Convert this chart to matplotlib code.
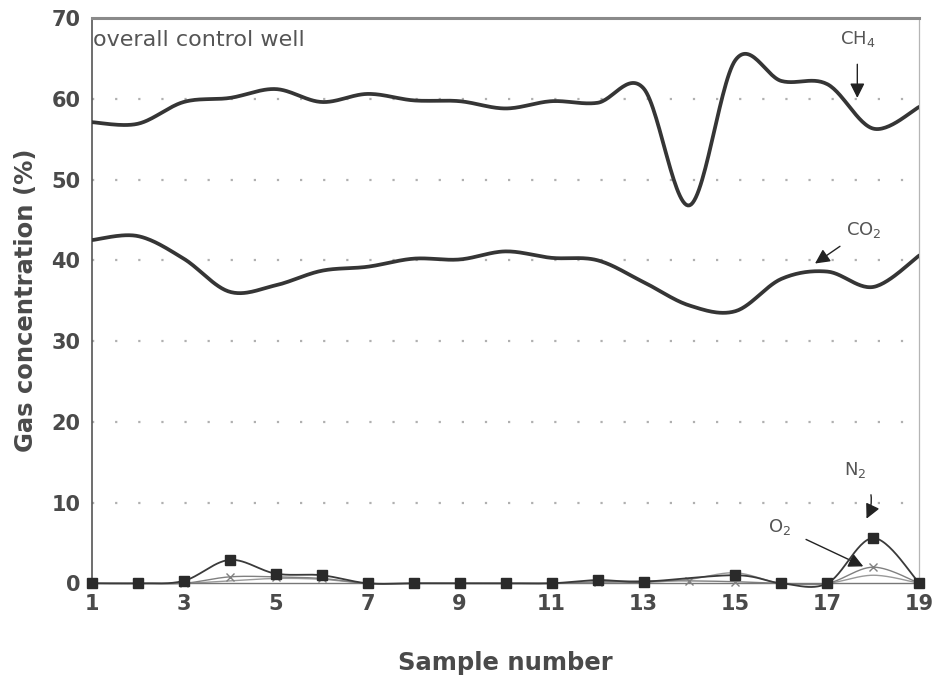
import numpy as np
import matplotlib
matplotlib.use("Agg")
import matplotlib.pyplot as plt

plt.rcParams['font.family'] = ['DejaVu Sans']

samples = list(range(1, 20))
ch4 = [57.1, 56.9, 59.6, 60.1, 61.2, 59.6, 60.6, 59.8, 59.7, 58.8,
       59.7, 59.5, 61.3, 46.8, 64.8, 62.2, 61.8, 56.3, 59.0]
co2 = [42.5, 43.0, 40.2, 36.1, 36.9, 38.7, 39.2, 40.2, 40.1, 41.1,
       40.3, 40.0, 37.3, 34.4, 33.7, 37.7, 38.6, 36.7, 40.6]
n2 = [0.0, 0.0, 0.3, 2.9, 1.2, 1.0, 0.0, 0.0, 0.0, 0.0,
      0.0, 0.4, 0.2, None, 1.0, 0.0, 0.0, 5.6, 0.0]
o2 = [0.0, 0.0, 0.0, 0.8, 0.8, 0.6, 0.0, 0.0, 0.0, 0.0,
      0.0, 0.2, 0.3, 0.3, 0.2, 0.0, 0.0, 2.0, 0.0]
other = [0.0, 0.0, 0.0, 0.3, 0.6, 0.5, 0.0, 0.0, 0.0, 0.0,
         0.0, 0.1, 0.1, 0.5, 1.3, 0.0, 0.0, 1.0, 0.0]
xticks = [1, 3, 5, 7, 9, 11, 13, 15, 17, 19]
yticks = [0, 10, 20, 30, 40, 50, 60, 70]


def smooth(xs, ys, n=30):
    pts = [(x, y) for x, y in zip(xs, ys) if y is not None]
    P = np.array(pts, dtype=float)
    out = []
    for i in range(len(P) - 1):
        p0 = P[i - 1] if i > 0 else P[i]
        p1 = P[i]
        p2 = P[i + 1]
        p3 = P[i + 2] if i + 2 < len(P) else P[i + 1]
        c1 = p1 + (p2 - p0) / 6.0
        c2 = p2 - (p3 - p1) / 6.0
        t = np.linspace(0, 1, n)[:, None]
        seg = ((1 - t) ** 3) * p1 + 3 * ((1 - t) ** 2) * t * c1 + 3 * (1 - t) * t ** 2 * c2 + t ** 3 * p2
        out.append(seg if i == 0 else seg[1:])
    S = np.vstack(out)
    return S[:, 0], S[:, 1]


fig = plt.figure(figsize=(9.37, 6.82), dpi=100)
ax = fig.add_axes([0.0979, 0.1447, 0.8833, 0.8289])
ax.set_xlim(1, 19)
ax.set_ylim(0, 70)

for yv in yticks[1:-1]:
    ax.axhline(yv, color='#b0b0b0', lw=1.6, ls=(0, (1, 9.4)), zorder=0)

gx, gy = smooth(samples, other)
ax.plot(gx, gy, color='#9a9a9a', lw=1.0, zorder=2, clip_on=False)
ox, oy = smooth(samples, o2)
ax.plot(ox, oy, color='#808080', lw=1.0, zorder=2, clip_on=False)
ax.plot(samples, o2, ls='none', marker='x', ms=6, mew=1.0, color='#808080', zorder=3, clip_on=False)

nx, ny = smooth(samples, n2)
ax.plot(nx, ny, color='#3a3a3a', lw=1.3, zorder=4, clip_on=False)
n2x = [s for s, v in zip(samples, n2) if v is not None]
n2y = [v for v in n2 if v is not None]
ax.plot(n2x, n2y, ls='none', marker='s', ms=7, color='#2a2a2a', zorder=5, clip_on=False)

cx, cy = smooth(samples, ch4)
ax.plot(cx, cy, color='#353535', lw=2.7, zorder=4, solid_capstyle='round')
dx, dy = smooth(samples, co2)
ax.plot(dx, dy, color='#353535', lw=2.7, zorder=4, solid_capstyle='round')

ax.set_xticks(xticks)
ax.set_yticks(yticks)
ax.tick_params(axis='both', length=0, labelsize=15, labelcolor='#4a4a4a')
ax.tick_params(axis='x', pad=8)
ax.tick_params(axis='y', pad=8)
for lab in ax.get_xticklabels() + ax.get_yticklabels():
    lab.set_fontweight('bold')

ax.spines['top'].set_color('#8a8a8a')
ax.spines['top'].set_linewidth(2.2)
ax.spines['right'].set_color('#b5b5b5')
ax.spines['right'].set_linewidth(0.9)
ax.spines['left'].set_color('#555555')
ax.spines['left'].set_linewidth(1.2)
ax.spines['bottom'].set_color('#777777')
ax.spines['bottom'].set_linewidth(1.0)

ax.set_xlabel('Sample number', fontsize=17.5, fontweight='bold', color='#4a4a4a', labelpad=26)
ax.set_ylabel('Gas concentration (%)', fontsize=17.5, fontweight='bold', color='#4a4a4a', labelpad=10)

ax.text(1.03, 67.3, 'overall control well', fontsize=16, color='#555555', ha='left', va='center')

ap = dict(arrowstyle='-|>', color='#222222', lw=1.0, mutation_scale=22)
ax.annotate('CH$_4$', xy=(17.65, 60.1), xytext=(17.65, 67.4), fontsize=13, color='#555555',
            ha='center', va='center', arrowprops=dict(ap, shrinkA=9, shrinkB=0))
ax.annotate('CO$_2$', xy=(16.73, 39.6), xytext=(17.8, 43.8), fontsize=13, color='#555555',
            ha='center', va='center', arrowprops=dict(ap, shrinkA=5, shrinkB=0))
ax.annotate('N$_2$', xy=(17.85, 8.0), xytext=(17.6, 14.0), fontsize=13, color='#555555',
            ha='center', va='center',
            arrowprops=dict(ap, shrinkA=9, shrinkB=0, connectionstyle='arc3,rad=-0.4'))
ax.annotate('O$_2$', xy=(17.78, 2.1), xytext=(15.95, 7.0), fontsize=13, color='#555555',
            ha='center', va='center', arrowprops=dict(ap, shrinkA=10, shrinkB=0))

fig.savefig('out.png', dpi=100, facecolor='white')
